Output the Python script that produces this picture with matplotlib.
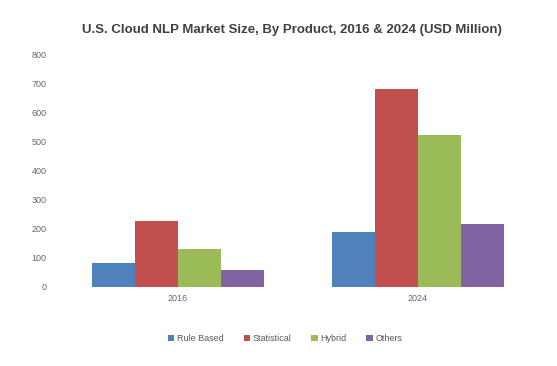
import matplotlib.pyplot as plt
import numpy as np

years = ["2016", "2024"]
products = ["Rule Based", "Statistical", "Hybrid", "Others"]
rule_based = [83, 190]
statistical = [228, 683]
hybrid = [131, 524]
others = [59, 217]
colors = ["#4f81bd", "#c0504d", "#9bbb59", "#8064a2"]

series = [rule_based, statistical, hybrid, others]

plt.rcParams["font.family"] = ["Liberation Sans", "DejaVu Sans"]

fig = plt.figure(figsize=(5.57, 3.66), dpi=100)
ax = fig.add_axes([0.104, 0.216, 0.862, 0.634])

x = np.arange(len(years))
w = 0.72 / 4
for i, (vals, name) in enumerate(zip(series, products)):
    ax.bar(x + (i - 1.5) * w, vals, w, color=colors[i], label=name)

ax.set_xlim(-0.5, 1.5)
ax.set_ylim(0, 800)
ax.set_yticks(range(0, 801, 100))
ax.set_xticks(x)
ax.set_xticklabels(years)
ax.tick_params(axis="both", length=0, labelsize=6.5, colors="#666666")
ax.tick_params(axis="y", pad=8)
ax.tick_params(axis="x", pad=5)
for s in ax.spines.values():
    s.set_visible(False)

fig.text(0.525, 0.917, "U.S. Cloud NLP Market Size, By Product, 2016 & 2024 (USD Million)",
         ha="center", va="center", fontsize=9.5, fontweight="bold", color="#404040")

fig.legend(loc="center", bbox_to_anchor=(0.512, 0.074), ncol=4, frameon=False,
           fontsize=6.5, handlelength=0.7, handleheight=0.7, handletextpad=0.3,
           columnspacing=2.2, labelcolor="#595959")

fig.savefig("out.png", dpi=100)
